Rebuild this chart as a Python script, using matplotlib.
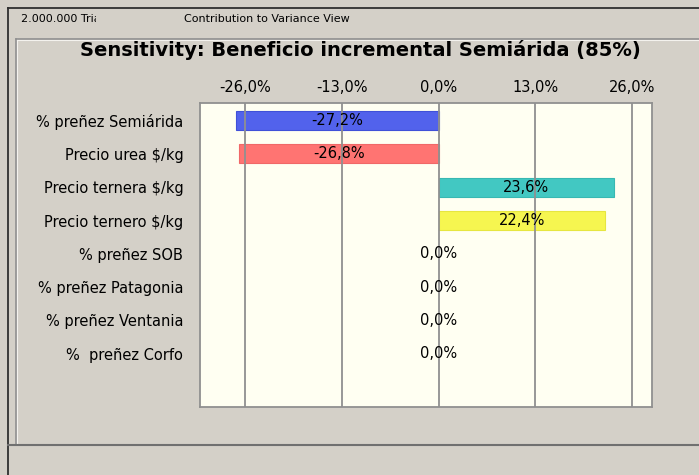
import matplotlib
matplotlib.use("Agg")
import matplotlib.pyplot as plt
from matplotlib.lines import Line2D
from matplotlib.transforms import Bbox

categories = ["% preñez Semiárida", "Precio urea $/kg", "Precio ternera $/kg",
              "Precio ternero $/kg", "% preñez SOB", "% preñez Patagonia",
              "% preñez Ventania", "%  preñez Corfo"]
values = [-27.2, -26.8, 23.6, 22.4, 0.0, 0.0, 0.0, 0.0]
bar_colors = ["#5262EC", "#FF7472", "#42C8C2", "#F6F650", "#FFFFFF", "#FFFFFF", "#FFFFFF", "#FFFFFF"]
edge_colors = ["#4050D8", "#F06868", "#38B8B2", "#E6E640", "#FFFFFF", "#FFFFFF", "#FFFFFF", "#FFFFFF"]
xticks = [-26, -13, 0, 13, 26]
title = "Sensitivity: Beneficio incremental Semiárida (85%)"
header_left = "2.000.000 Trials"
header_center = "Contribution to Variance View"

W, H = 699, 475
plt.rcParams['font.family'] = ['DejaVu Sans']
fig = plt.figure(figsize=(W/100, H/100), dpi=100)
fig.patch.set_facecolor("#D4D0C8")

def fx(x): return x / W
def fy(y): return 1 - y / H

# window borders
fig.add_artist(Line2D([fx(8), fx(8)], [fy(8), fy(475)], color="#303030", lw=1.3))
fig.add_artist(Line2D([fx(8), fx(699)], [fy(8), fy(8)], color="#303030", lw=1.3))
fig.add_artist(Line2D([fx(16), fx(16)], [fy(39), fy(445)], color="#909090", lw=1.2))
fig.add_artist(Line2D([fx(16), fx(699)], [fy(39), fy(39)], color="#909090", lw=1.2))
fig.add_artist(Line2D([fx(17), fx(17)], [fy(40), fy(444)], color="#F4F2EE", lw=0.8))
fig.add_artist(Line2D([fx(17), fx(699)], [fy(40), fy(40)], color="#F4F2EE", lw=0.8))
fig.add_artist(Line2D([fx(8), fx(699)], [fy(445), fy(445)], color="#707070", lw=1.5))

t = fig.text(fx(21), fy(19), header_left, fontsize=8, va="center", ha="left", color="#000000")
t.set_clip_box(Bbox([[0, 0], [96, H]]))
t.set_clip_on(True)
fig.text(fx(267), fy(19), header_center, fontsize=8, va="center", ha="center")
fig.text(fx(360), fy(50), title, fontsize=14, va="center", ha="center", fontweight="bold")

ax = fig.add_axes([fx(200), fy(407), fx(652) - fx(200), (407 - 103) / H])
ax.set_facecolor("#FFFFF2")
n = len(categories)
ypos = list(range(n))
ax.barh(ypos, values, height=0.57, color=bar_colors, edgecolor=edge_colors, linewidth=0.8, zorder=2)
ax.set_xlim(-32.1, 28.7)
ax.set_ylim(n - 1 + 1.6, -0.53)
for xt in xticks:
    ax.axvline(xt, color="#909090", lw=1.3, zorder=3)
for y, v in zip(ypos, values):
    ax.text(v / 2, y, f"{v:.1f}%".replace(".", ","), ha="center", va="center",
            fontsize=10.5, zorder=4)
ax.xaxis.tick_top()
ax.set_xticks(xticks)
ax.set_xticklabels([f"{t:.1f}%".replace(".", ",") for t in xticks], fontsize=10.5)
ax.tick_params(axis="x", length=0, pad=6)
ax.set_yticks(ypos)
ax.set_yticklabels(categories, fontsize=10.5)
ax.tick_params(axis="y", length=0, pad=12)
for s in ax.spines.values():
    s.set_color("#909090")
    s.set_linewidth(1.3)

fig.savefig("out.png", dpi=100, facecolor=fig.get_facecolor())
